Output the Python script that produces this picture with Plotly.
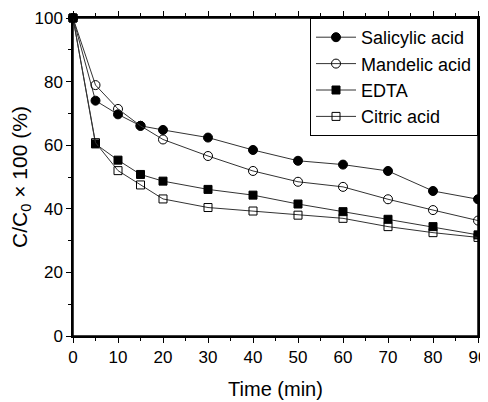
import plotly.graph_objects as go

time_min = [0, 5, 10, 15, 20, 30, 40, 50, 60, 70, 80, 90]
salicylic = [100, 74.0, 69.7, 66.1, 64.8, 62.4, 58.5, 55.1, 53.9, 51.9, 45.6, 43.0]
mandelic = [100, 78.9, 71.4, 66.1, 61.8, 56.6, 51.9, 48.5, 46.9, 43.0, 39.6, 36.3]
edta = [100, 60.4, 55.3, 50.8, 48.7, 46.1, 44.3, 41.5, 39.1, 36.7, 34.4, 31.8]
citric = [100, 60.8, 52.0, 47.5, 43.1, 40.4, 39.3, 38.0, 37.0, 34.4, 32.5, 31.0]

series = [
    ("Salicylic acid", salicylic, "circle", 9),
    ("Mandelic acid", mandelic, "circle-open", 9),
    ("EDTA", edta, "square", 8),
    ("Citric acid", citric, "square-open", 8),
]

fig = go.Figure()
for name, vals, sym, sz in series:
    fig.add_trace(go.Scatter(
        x=time_min, y=vals, name=name, mode="lines+markers",
        line=dict(color="#333333", width=1),
        marker=dict(symbol=sym, size=sz, color="black",
                    line=dict(color="black", width=1)),
        cliponaxis=False,
    ))

font = "Liberation Sans, Arial, sans-serif"
base_axis = dict(
    showline=True, linecolor="black", linewidth=1.5, mirror="ticks",
    showgrid=False, zeroline=False, ticklen=5,
    tickcolor="black", tickwidth=1, automargin=False,
    tickfont=dict(family=font, size=17, color="black"),
)

fig.update_layout(
    width=480, height=394,
    margin=dict(l=65, r=10, t=10, b=66),
    paper_bgcolor="white", plot_bgcolor="white",
    font=dict(family=font, color="black"),
    showlegend=True,
    legend=dict(
        x=1, y=1, xanchor="right", yanchor="top",
        bgcolor="white", bordercolor="black", borderwidth=1,
        font=dict(family=font, size=18, color="black"),
        tracegroupgap=0, itemwidth=40,
    ),
    xaxis=dict(
        ticks="outside", tickmode="linear", tick0=0, dtick=10, range=[0, 90],
        minor=dict(dtick=5, ticks="outside", ticklen=3, tickcolor="black"),
        title=dict(text="Time (min)", font=dict(family=font, size=20), standoff=16),
        **base_axis,
    ),
    yaxis=dict(
        ticks="outside", tickmode="linear", tick0=0, dtick=20, range=[0, 100],
        minor=dict(dtick=10, ticks="outside", ticklen=3, tickcolor="black"),
        title=dict(text="C/C<sub>0</sub> × 100 (%)", font=dict(family=font, size=21), standoff=8),
        **base_axis,
    ),
    shapes=[dict(type="rect", xref="paper", yref="paper", x0=0, x1=1, y0=0, y1=1,
                 line=dict(color="black", width=1.5), fillcolor="rgba(0,0,0,0)",
                 layer="above")],
)

fig.write_html("out.html")
